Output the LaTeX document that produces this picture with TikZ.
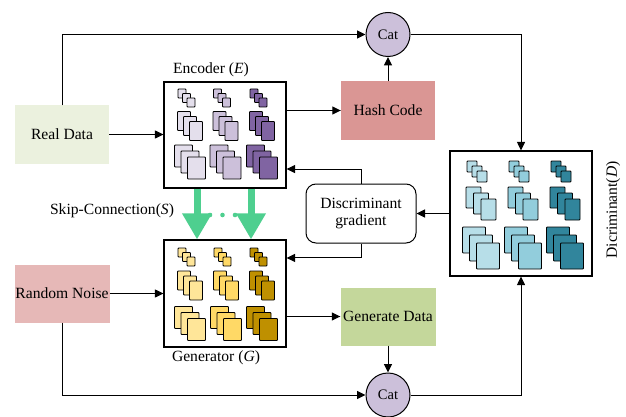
\documentclass[tikz,border=0pt]{standalone}
\usepackage{fontspec}
\setmainfont{Liberation Serif}
\usetikzlibrary{arrows.meta,calc}

% palette
\definecolor{realfill}{HTML}{EBF1DE}
\definecolor{noisefill}{HTML}{E6B8B7}
\definecolor{hashfill}{HTML}{DA9694}
\definecolor{genfill}{HTML}{C4D79B}
\definecolor{catfill}{HTML}{CCC0DA}
\definecolor{skipgreen}{HTML}{4ECF8F}
\definecolor{encA}{HTML}{E4DFEC}
\definecolor{encB}{HTML}{CCC0DA}
\definecolor{encC}{HTML}{8064A2}
\definecolor{genA}{HTML}{FFE699}
\definecolor{genB}{HTML}{FFD966}
\definecolor{genC}{HTML}{BF9000}
\definecolor{disA}{HTML}{B7DEE8}
\definecolor{disB}{HTML}{92CDDC}
\definecolor{disC}{HTML}{31859C}

% three stacked feature maps: centre x, centre y, width, height, dx, dy, colour
\newcommand\fstack[7]{%
  \foreach \k in {-1,0,1}{%
    \draw[fmap, fill=#7] ({#1+(\k)*(#5)-(#3)/2},{#2+(\k)*(#6)-(#4)/2}) rectangle ++(#3,#4);
  }}

\begin{document}
\begin{tikzpicture}[x=1pt, y=-1pt,
  font=\fontsize{15.6}{17}\selectfont,
  colbox/.style={minimum width=94pt, minimum height=58pt, inner sep=0pt},
  netbox/.style={draw, line width=1.1pt, inner sep=0pt},
  catnode/.style={circle, draw, line width=1pt, fill=catfill, minimum size=44pt, inner sep=0pt, font=\fontsize{14.5}{16}\selectfont},
  arr/.style={line width=1pt, -{Triangle[length=8.5pt,width=8pt]}},
  skiparr/.style={draw=skipgreen, line width=7pt, -{Triangle[length=26pt,width=28pt]}},
  fmap/.style={draw, line width=0.9pt, rounded corners=0.8pt}]

\useasboundingbox (0,0) rectangle (626,417);

% plain blocks
\node[colbox, fill=realfill] (real) at (62,134.5) {Real Data};
\node[colbox, fill=noisefill, minimum width=95pt] (noise) at (62,293.5) {Random Noise};
\node[colbox, fill=hashfill] (hash) at (388,110.5) {Hash Code};
\node[colbox, fill=genfill, minimum width=95pt] (gend) at (388,316.5) {Generate Data};
\node[catnode] (catT) at (388,34.5) {Cat};
\node[catnode] (catB) at (388,395) {Cat};

% networks
\node[netbox, minimum width=122pt, minimum height=106pt] (enc) at (225,135) {};
\node[netbox, minimum width=122pt, minimum height=107pt] (gen) at (225,293.5) {};
\node[netbox, minimum width=142pt, minimum height=125pt] (disc) at (521,213.5) {};
\node[draw, line width=1pt, rounded corners=10pt, minimum width=110pt, minimum height=59pt,
      align=center, inner sep=0pt, font=\fontsize{15.6}{16.5}\selectfont] (grad) at (361,213.5) {Discriminant\\gradient};

% captions
\node (enclab) at (211,70) {Encoder (\textit{E})};
\node (genlab) at (216,358) {Generator (\textit{G})};
\node (skiplab) at (112,211) {Skip-Connection(\textit{S})};
\node[rotate=90] (dislab) at (613,210) {Dicriminant(\textit{D})};

% feature maps of the encoder
\foreach \cx/\col in {190/encA, 225.5/encB, 262/encC}{
  \fstack{\cx-3.5}{98}{8}{9}{4.5}{4.5}{\col}
  \fstack{\cx}{126}{13}{19}{6}{5}{\col}
  \fstack{\cx}{162}{18}{22}{6.5}{6}{\col}
}
% feature maps of the generator
\foreach \cx/\col in {190/genA, 226/genB, 262/genC}{
  \fstack{\cx-3.5}{257}{8}{9}{4.5}{4.5}{\col}
  \fstack{\cx}{285.5}{13}{19}{6}{5}{\col}
  \fstack{\cx}{323.5}{18}{22}{6.5}{6}{\col}
}
% feature maps of the discriminator
\foreach \cx/\col in {481/disA, 523/disB, 565/disC}{
  \fstack{\cx-4}{171.5}{10}{11}{5}{5}{\col}
  \fstack{\cx}{203.5}{15}{21}{7.5}{6}{\col}
  \fstack{\cx}{248}{23}{26}{7}{8}{\col}
}

% skip connections
\coordinate (k1) at (197,0);
\coordinate (k2) at (251,0);
\draw[skiparr] (k1 |- enc.south) -- (k1 |- gen.north);
\draw[skiparr] (k2 |- enc.south) -- (k2 |- gen.north);
\foreach \dx in {210,222.5,235}
  \fill[skipgreen] (\dx,215) circle (2.3pt);

% data flow
\draw[arr] (real.north) |- (catT.west);
\draw[arr] (real.east) -- (real.east -| enc.west);
\draw[arr] (enc.east |- hash.west) -- (hash.west);
\draw[arr] (hash.north) -- (catT.south);
\draw[arr] (catT.east) -| (disc.north);
\draw[arr] (disc.west) -- (grad.east);
\draw[arr] (grad.north) |- ([yshift=19.5pt]enc.south east);
\draw[arr] (grad.south) |- ([yshift=-18.5pt]gen.north east);
\draw[arr] (noise.east) -- (noise.east -| gen.west);
\draw[arr] (gen.east |- gend.west) -- (gend.west);
\draw[arr] (gend.south) -- (catB.north);
\draw[arr] (noise.south) |- (catB.west);
\draw[arr] (catB.east) -| (disc.south);
\end{tikzpicture}
\end{document}
